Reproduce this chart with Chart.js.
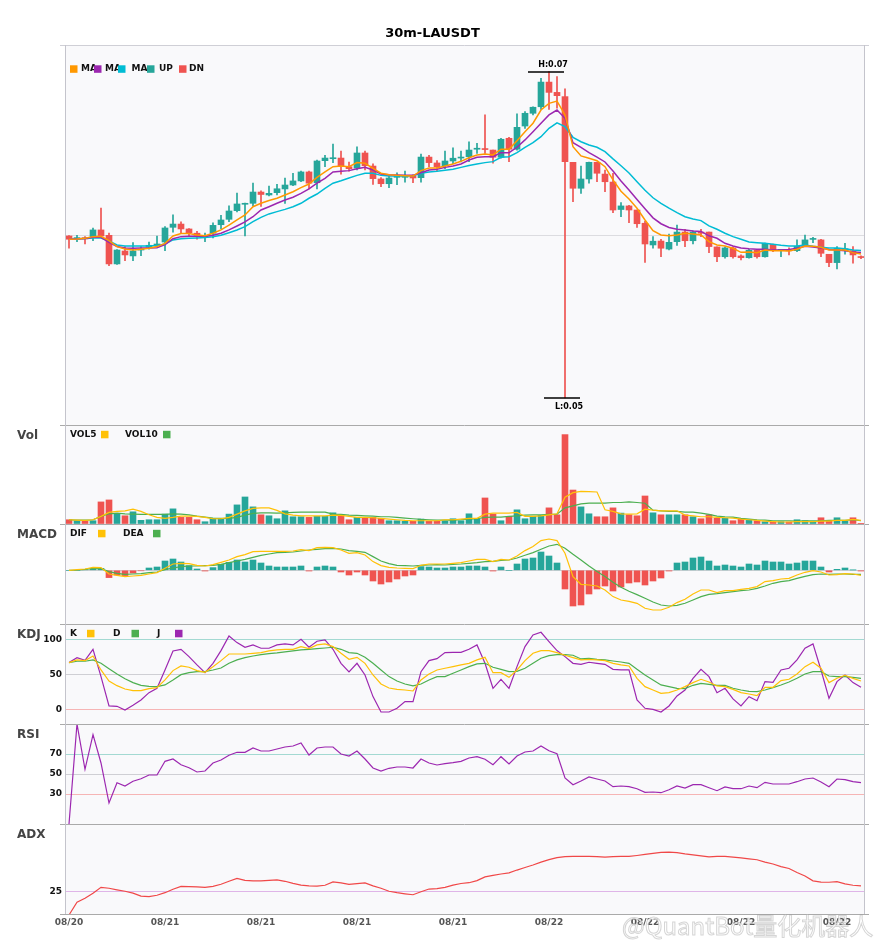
<!DOCTYPE html>
<html>
<head>
<meta charset="utf-8">
<title>30m-LAUSDT</title>
<script src="https://cdn.jsdelivr.net/npm/chart.js@4.4.1/dist/chart.umd.min.js"></script>
<style>
  html, body { margin: 0; padding: 0; background: #fff; }
  #board { position: relative; width: 885px; height: 950px; overflow: hidden; }
  #board canvas { position: absolute; left: 0; }
</style>
</head>
<body>
<div id="board">
  <canvas id="priceChart" width="885" height="425" style="top:0px;width:885px;height:425px"></canvas>
  <canvas id="volChart" width="885" height="99" style="top:425px;width:885px;height:99px"></canvas>
  <canvas id="macdChart" width="885" height="100" style="top:524px;width:885px;height:100px"></canvas>
  <canvas id="kdjChart" width="885" height="100" style="top:624px;width:885px;height:100px"></canvas>
  <canvas id="rsiChart" width="885" height="100" style="top:724px;width:885px;height:100px"></canvas>
  <canvas id="adxChart" width="885" height="126" style="top:824px;width:885px;height:126px"></canvas>
</div>
<script>
/**
 * 30m-LAUSDT candles with indicator panels
 */

// tick labels, one every 12 bars (6 hours)
const tickLabels = ['08/20', '08/21', '08/21', '08/21', '08/21', '08/22', '08/22', '08/22', '08/22'];

const open = [
  0.06000,0.05982,0.05990,0.05996,0.06037,0.06004,0.05829,0.05908,0.05878,0.05914,
  0.05931,0.05943,0.05963,0.06053,0.06073,0.06043,0.06017,0.05992,0.06017,0.06069,
  0.06102,0.06155,0.06194,0.06200,0.06269,0.06251,0.06265,0.06288,0.06312,0.06337,
  0.06392,0.06326,0.06461,0.06473,0.06477,0.06424,0.06416,0.06508,0.06428,0.06349,
  0.06320,0.06359,0.06359,0.06367,0.06357,0.06483,0.06447,0.06430,0.06459,0.06477,
  0.06485,0.06531,0.06531,0.06526,0.06482,0.06598,0.06531,0.06673,0.06751,0.06791,
  0.06942,0.06879,0.06853,0.06451,0.06292,0.06349,0.06451,0.06379,0.06330,0.06162,
  0.06184,0.06159,0.06078,0.05945,0.05969,0.05920,0.05965,0.06024,0.05971,0.06024,
  0.06024,0.05933,0.05873,0.05927,0.05878,0.05867,0.05912,0.05873,0.05949,0.05912,
  0.05912,0.05910,0.05939,0.05979,0.05976,0.05888,0.05837,0.05910,0.05910,0.05870
];
const high = [
  0.06003,0.06004,0.05996,0.06049,0.06171,0.06017,0.05916,0.05935,0.05959,0.05935,
  0.05963,0.06000,0.06057,0.06129,0.06086,0.06045,0.06029,0.06017,0.06081,0.06127,
  0.06184,0.06263,0.06202,0.06324,0.06277,0.06306,0.06316,0.06355,0.06384,0.06398,
  0.06398,0.06465,0.06494,0.06563,0.06520,0.06453,0.06545,0.06520,0.06441,0.06357,
  0.06367,0.06387,0.06398,0.06375,0.06502,0.06494,0.06461,0.06520,0.06540,0.06520,
  0.06577,0.06567,0.06741,0.06526,0.06598,0.06604,0.06747,0.06761,0.06791,0.06965,
  0.07006,0.06975,0.06900,0.06451,0.06428,0.06453,0.06453,0.06404,0.06384,0.06205,
  0.06187,0.06159,0.06089,0.05997,0.05979,0.06012,0.06066,0.06041,0.06031,0.06041,
  0.06024,0.05933,0.05933,0.05933,0.05884,0.05919,0.05914,0.05957,0.05951,0.05919,
  0.05928,0.05976,0.06006,0.05992,0.05980,0.05888,0.05935,0.05955,0.05935,0.05878
];
const low = [
  0.05925,0.05965,0.05951,0.05971,0.05996,0.05818,0.05826,0.05849,0.05849,0.05879,
  0.05919,0.05935,0.05910,0.06024,0.06020,0.05996,0.05980,0.05965,0.05988,0.06045,
  0.06088,0.06147,0.06000,0.06184,0.06181,0.06245,0.06251,0.06200,0.06308,0.06332,
  0.06288,0.06288,0.06424,0.06449,0.06379,0.06396,0.06404,0.06404,0.06316,0.06302,
  0.06296,0.06314,0.06330,0.06326,0.06330,0.06424,0.06398,0.06412,0.06442,0.06453,
  0.06455,0.06506,0.06506,0.06445,0.06476,0.06455,0.06526,0.06659,0.06741,0.06775,
  0.06775,0.06782,0.05009,0.06210,0.06261,0.06323,0.06332,0.06271,0.06143,0.06118,
  0.06081,0.06053,0.05838,0.05925,0.05873,0.05914,0.05942,0.05935,0.05951,0.05996,
  0.05898,0.05843,0.05864,0.05864,0.05853,0.05864,0.05864,0.05870,0.05904,0.05873,
  0.05884,0.05904,0.05935,0.05959,0.05873,0.05812,0.05798,0.05888,0.05833,0.05861
];
const close = [
  0.05980,0.05990,0.05982,0.06037,0.06000,0.05829,0.05914,0.05884,0.05908,0.05919,
  0.05943,0.05951,0.06049,0.06073,0.06043,0.06020,0.06004,0.06000,0.06065,0.06098,
  0.06153,0.06196,0.06200,0.06269,0.06254,0.06261,0.06289,0.06312,0.06337,0.06392,
  0.06323,0.06459,0.06477,0.06477,0.06430,0.06412,0.06508,0.06430,0.06351,0.06320,
  0.06355,0.06367,0.06367,0.06355,0.06483,0.06449,0.06424,0.06459,0.06476,0.06483,
  0.06526,0.06537,0.06529,0.06482,0.06592,0.06531,0.06665,0.06751,0.06788,0.06942,
  0.06879,0.06859,0.06455,0.06292,0.06349,0.06451,0.06384,0.06332,0.06159,0.06184,
  0.06159,0.06075,0.05951,0.05968,0.05925,0.05961,0.06024,0.05971,0.06024,0.06017,
  0.05935,0.05873,0.05927,0.05873,0.05867,0.05912,0.05873,0.05955,0.05914,0.05916,
  0.05909,0.05937,0.05976,0.05981,0.05894,0.05837,0.05925,0.05922,0.05884,0.05868
];

// moving averages (orange / purple / cyan)
const maFast = [
  0.05980,0.05982,0.05986,0.05996,0.05998,0.05971,0.05935,0.05920,0.05914,0.05919,
  0.05925,0.05935,0.05955,0.06000,0.06015,0.06015,0.06006,0.06002,0.06017,0.06037,
  0.06067,0.06098,0.06129,0.06179,0.06200,0.06217,0.06231,0.06251,0.06271,0.06296,
  0.06318,0.06359,0.06392,0.06424,0.06428,0.06424,0.06449,0.06445,0.06414,0.06384,
  0.06375,0.06371,0.06369,0.06367,0.06400,0.06416,0.06416,0.06428,0.06441,0.06457,
  0.06479,0.06496,0.06502,0.06496,0.06531,0.06531,0.06583,0.06638,0.06690,0.06771,
  0.06812,0.06826,0.06741,0.06547,0.06490,0.06476,0.06461,0.06424,0.06343,0.06274,
  0.06226,0.06170,0.06098,0.06032,0.06006,0.06002,0.06006,0.06017,0.06012,0.06006,
  0.05965,0.05945,0.05939,0.05925,0.05900,0.05902,0.05898,0.05914,0.05910,0.05910,
  0.05908,0.05919,0.05939,0.05937,0.05931,0.05914,0.05914,0.05914,0.05898,0.05890
];
const maMid = [
  0.05980,0.05982,0.05985,0.05992,0.05992,0.05961,0.05935,0.05927,0.05925,0.05927,
  0.05927,0.05928,0.05947,0.05983,0.05996,0.05998,0.05998,0.05998,0.06004,0.06017,
  0.06037,0.06061,0.06086,0.06118,0.06159,0.06179,0.06200,0.06220,0.06237,0.06261,
  0.06288,0.06323,0.06353,0.06392,0.06396,0.06400,0.06412,0.06420,0.06404,0.06379,
  0.06375,0.06373,0.06371,0.06371,0.06387,0.06404,0.06408,0.06420,0.06428,0.06441,
  0.06465,0.06482,0.06485,0.06485,0.06510,0.06510,0.06543,0.06588,0.06638,0.06690,
  0.06741,0.06771,0.06720,0.06571,0.06543,0.06510,0.06483,0.06453,0.06398,0.06337,
  0.06282,0.06223,0.06166,0.06111,0.06075,0.06052,0.06041,0.06037,0.06031,0.06028,
  0.06001,0.05986,0.05955,0.05939,0.05927,0.05922,0.05919,0.05919,0.05914,0.05914,
  0.05917,0.05925,0.05937,0.05933,0.05927,0.05917,0.05914,0.05910,0.05902,0.05899
];
const maSlow = [
  0.05980,0.05982,0.05985,0.05988,0.05988,0.05969,0.05945,0.05939,0.05939,0.05939,
  0.05939,0.05941,0.05951,0.05976,0.05983,0.05986,0.05988,0.05990,0.05996,0.06004,
  0.06020,0.06037,0.06057,0.06088,0.06114,0.06135,0.06149,0.06163,0.06179,0.06200,
  0.06231,0.06257,0.06292,0.06323,0.06338,0.06355,0.06371,0.06384,0.06384,0.06371,
  0.06367,0.06367,0.06367,0.06369,0.06384,0.06392,0.06396,0.06402,0.06408,0.06420,
  0.06431,0.06441,0.06449,0.06455,0.06482,0.06485,0.06510,0.06543,0.06571,0.06608,
  0.06659,0.06693,0.06669,0.06604,0.06577,0.06557,0.06543,0.06516,0.06472,0.06430,
  0.06386,0.06332,0.06280,0.06234,0.06200,0.06170,0.06143,0.06118,0.06104,0.06094,
  0.06062,0.06041,0.06017,0.05996,0.05980,0.05963,0.05959,0.05955,0.05949,0.05943,
  0.05939,0.05939,0.05945,0.05937,0.05931,0.05927,0.05927,0.05922,0.05914,0.05911
];

// volume (thousands) and its averages
const volume = [
  4.3,3.3,3.0,3.3,22.3,24.3,10.0,8.3,12.3,3.7,
  4.3,4.3,10.0,15.3,6.7,6.7,4.3,2.3,5.7,5.7,
  10.0,19.3,27.3,17.3,9.3,8.3,5.3,13.3,7.3,7.3,
  6.7,7.7,7.7,11.3,8.7,4.3,6.7,6.7,6.7,5.7,
  3.3,3.3,2.7,2.7,5.0,2.7,2.7,2.7,5.3,3.3,
  10.3,5.0,26.3,10.0,3.3,7.7,14.3,5.3,7.7,8.7,
  16.3,9.3,90.3,34.3,17.3,10.3,7.3,7.3,16.3,11.0,
  9.3,8.3,28.3,11.3,9.3,9.3,9.3,9.3,7.3,5.3,
  9.3,5.7,5.7,3.3,5.7,4.3,3.3,2.3,2.0,2.3,
  2.0,4.3,3.3,2.3,6.3,2.7,6.3,2.7,6.3,0.7
];
const vol5 = [
  4.3,4.0,3.7,4.3,7.7,11.7,12.7,13.3,15.0,12.7,
  9.3,6.7,5.7,6.7,8.0,8.0,7.7,6.7,5.3,5.3,
  6.7,10.0,13.3,15.7,16.3,16.3,13.7,10.3,9.0,8.3,
  8.3,8.3,8.3,9.0,8.7,7.7,6.7,6.7,6.3,5.7,
  5.0,4.3,3.7,3.3,3.3,3.3,3.3,4.3,4.3,5.0,
  5.7,5.7,10.0,11.0,11.0,11.0,11.7,7.7,7.7,8.3,
  9.3,10.3,27.0,31.7,33.0,32.7,32.3,14.3,12.7,10.3,
  10.0,10.3,15.0,14.0,13.3,13.3,13.3,9.0,8.3,7.3,
  7.3,6.7,6.3,6.0,5.0,4.3,3.7,3.0,2.3,2.0,
  2.0,2.3,2.3,2.3,3.0,3.0,3.7,3.7,4.7,3.7
];
const vol10 = [
  4.3,4.0,4.0,4.3,7.7,10.3,11.0,10.3,10.0,9.7,
  9.7,9.7,9.7,10.3,10.0,9.3,8.0,7.0,6.0,5.7,
  5.7,6.7,9.0,10.7,11.3,11.3,11.0,11.3,11.7,12.0,
  12.0,12.0,12.0,10.0,9.7,9.0,8.7,8.3,8.0,7.3,
  7.3,6.7,6.0,5.3,4.7,4.3,4.0,4.0,4.0,4.3,
  5.0,5.3,6.7,7.0,7.0,7.7,8.3,9.0,9.3,9.3,
  9.7,10.0,16.3,18.3,20.3,21.0,21.0,21.0,21.7,21.7,
  22.3,21.7,21.0,14.0,13.3,12.7,12.7,12.0,12.0,11.0,
  9.7,8.0,7.3,7.0,5.7,5.0,4.3,4.0,3.3,3.3,
  3.3,3.0,3.3,3.3,3.3,3.7,3.7,3.7,4.3,3.3
];

// MACD (units of 1e-5)
const dif = [
  0,0.7,1.3,3,2.7,-3.7,-5,-6.3,-5.7,-5,
  -3.7,-2.3,2,6.3,7,6.7,5,4.3,5.7,8,
  10.3,13.7,15.7,18.7,19,19,19,19,19.3,20.7,
  19.7,22.7,23,22.7,20.3,17,17.7,15.3,8.7,4.7,
  3,2.3,2,1.7,5,6.3,6.3,6.3,7,7.7,
  9.3,11,11,8.7,11,10.3,14.3,19.7,23.7,29.7,
  31.3,29.7,17,-6.3,-14,-14.7,-15.7,-19.7,-26.3,-29.7,
  -31,-33,-38,-39.7,-39.7,-37,-32.3,-29,-23.7,-19.7,
  -19.7,-22.3,-20.3,-20.3,-19,-18,-16.3,-11.3,-10.3,-8.7,
  -8,-4.7,-2,-0.3,-1.7,-4.7,-4.3,-3.3,-3.7,-5
];
const dea = [
  0,0.3,1,2,1.7,-1.3,-3,-4,-3.7,-3.3,
  -2.3,-1.7,0.7,2.3,3.7,4.3,4.3,4.7,5,6,
  7.7,9.3,11,13,15,16.3,17.7,18,18.3,19.3,
  20.3,21,21.7,22,21.3,19.7,19,18,13.7,9.3,
  6.7,5,4.7,4.3,5,5.3,5.7,5.3,6,6.3,
  7,7.7,8.7,9,10,10.3,12.3,15,17.7,21,
  24.3,26,22,16,10.3,4.3,-1.3,-6.3,-12,-17,
  -21,-24.3,-28,-31.7,-34.7,-35.7,-35,-33,-29.7,-26.3,
  -24,-23.3,-22.3,-21.3,-20.3,-19.7,-18,-15.7,-13,-11.3,
  -10.3,-8,-6,-4.3,-3.7,-4,-3.7,-3.7,-4,-4
];
const macdHist = [
  0,0,0.5,1.3,2,-7.3,-4.7,-5.3,-2.7,-0.5,
  2.3,3.3,9.3,11.3,8.3,4.7,1.3,-0.7,2.7,6,
  8,10.3,8.3,10.3,7.3,4.3,3.3,3.3,3.3,4.3,
  -0.7,3.3,4.3,3.3,-1.7,-4.7,-1.7,-4.7,-10.7,-13.7,
  -11.7,-8.7,-5.7,-4.7,3.7,3.3,2.3,2.3,3.3,3.3,
  4.3,4.3,3.3,-0.7,3.3,0,6.3,11.3,12.3,18.3,
  14.3,7.3,-18.7,-35.7,-34.7,-23.7,-18.7,-15.7,-20.7,-16.7,
  -12.7,-11.7,-14.7,-10.7,-7.7,-0.7,7.3,8.3,12.3,13.3,
  9.3,4.3,5.3,4.3,3.3,6.3,5.3,9.3,8.3,8.3,
  6.3,7.3,9.3,9.3,3.3,-1.7,1,2.3,0.3,-0.7
];

// KDJ
const kLine = [
  67,70.8,69.8,76.4,56.6,41,34.4,29.7,27.4,27.4,
  30.2,31.6,42.5,55.7,62.3,60.4,55.7,53.3,61.3,69.8,
  79.2,79.2,79.2,80.2,81.1,83.5,84.9,85.8,85.8,89.6,
  86.8,92,93.4,89.6,80.2,71.7,74.5,66,49.5,36.8,
  31.1,29.2,28.3,26.9,42.5,50.9,56.6,59,61.3,63.7,
  66,70.8,74.5,52.8,52.8,46.2,56.6,69.8,80.2,84,
  84,81.1,77.4,74,70.8,71.7,70.8,69.8,66,63.7,
  62.3,44.8,33,28.3,23.6,24.5,28.3,33,38.7,43.4,
  39.6,34,33,29.2,24.5,22.6,20.3,32.1,32.1,41.5,
  43.4,50.9,61.3,67.5,59,38.7,44.8,49.1,44.8,41
];
const dLine = [
  67,68.9,68.9,70.8,66,58.5,50.9,44.3,38.7,34.9,
  33.5,33,35.4,42.5,50,52.8,54.2,54.2,56.6,59.4,
  66,70.8,74,76.4,78.3,79.7,80.7,82.1,83.5,84.9,
  85.8,86.8,87.7,88.7,85.8,81.1,80.2,74.5,66,56.6,
  47.2,41,36.8,34,36.8,42.5,47.2,47.2,51.9,56.6,
  61.3,65.1,66,60.4,57.5,54.2,54.7,59,66,73.1,
  76.9,78.3,78.3,77.4,72.2,73.1,71.7,70.8,69.3,67.9,
  66,57.5,49.5,42.5,35.4,33,30.7,30.2,34.9,37.7,
  36.3,34.9,34.9,30.7,28.3,26.4,25.9,28.3,31.6,35.4,
  39.6,44.8,50.9,54.2,54.2,48.1,47.2,47.2,46.2,44.8
];
const jLine = [
  67,74,70.3,85.8,47.2,5.7,5.2,0,6.6,14.2,
  24.5,30.7,56.6,83.5,85.8,75.5,63.7,52.8,66,84,
  104.7,95.3,88.7,92,87.3,87.3,92,93.4,92,100,
  88.7,97.2,99,85.8,66,53.8,66,49.5,18.9,-2.8,
  -2.8,2.4,11.8,11.8,54.2,69.8,72.6,81.1,81.6,81.6,
  85.8,92,66,30.7,43.4,30.7,61.3,89.6,106.1,109.9,
  96.7,84,75.5,66,64.6,67.5,66,64.6,57.5,56.6,
  56.6,14.2,2.4,0.9,-2.8,5.7,19.8,28.3,44.8,57.5,
  47.2,24.5,30.7,15.6,5.7,18.9,13.2,40.1,39.2,56.6,
  59,70.8,87.3,93.4,56.6,16.5,40.1,49.5,38.7,32.1
];

const rsi = [
  0,100,54.7,89.3,61,21,41.3,38,42.7,45.3,
  49,49,62.7,65,59.3,56.3,52,53,61,64,
  68.7,71.7,71.7,76,73,73,75,77,78,81,
  69,76,77,77,70,68,73,65,56,53,
  55.7,57,57,56,65,61,59,60.3,61.3,62.7,
  66,67.3,64.7,59.3,67.3,60,68,72,73,78,
  73.3,70.3,46,39.3,43,47,45,43,37.3,38,
  37.3,35.3,31.7,32,31.3,34.3,38,36,39.3,39.3,
  36.3,33.3,37,35.3,35.3,38,36.3,41.7,40,40,
  40,42.3,45,46,42,37.3,45,44.3,42.3,41.3
];

const adx = [
  10,18.1,20.6,23.8,27.5,26.9,25.9,25,23.8,21.9,
  21.6,22.5,24.1,26.3,28.1,27.9,27.8,27.4,28.1,29.4,
  31.3,33.1,31.9,31.6,31.6,31.9,32.2,31.3,30,28.9,
  28.4,28.2,28.8,30.9,30.3,29.3,29.8,30.3,28.4,26.9,
  25,24.1,23.4,22.8,24.7,26.4,26.7,27.5,28.9,29.9,
  30.4,31.7,34.1,35,35.9,36.6,38.4,40,41.6,43.4,
  45,46.3,46.9,47,47,47,46.9,46.6,46.9,47,
  47,47.6,48.3,48.9,49.6,49.7,49.4,48.6,48,47.4,
  46.7,47,47,46.6,46.1,45.5,44.9,43.4,42.2,40.6,
  39.4,36.9,34.7,31.6,30.8,30.7,31.1,29.7,28.8,28.4
];

const FONT = "'DejaVu Sans', sans-serif";
Chart.defaults.font.family = FONT;

const TEAL = '#26a69a', RED = '#ef5350';
const YELLOW = '#ffc107', GREEN = '#4caf50', PURPLE = '#9c27b0', ORANGE = '#ff9800', CYAN = '#00bcd4';
const PANEL_BG = '#f9f9fb';

const cats = open.map((_, i) => i);
const candleColor = open.map((o, i) => (close[i] >= o ? TEAL : RED));
const histColor = macdHist.map(v => (v >= 0 ? TEAL : RED));

/**
 * Panel background, frame, side label and legend row
 */
function panelPlugin(cfg) {
    return {
        id: 'panelDeco',
        beforeDraw(chart) {
            const { ctx, chartArea: a } = chart;
            ctx.save();
            ctx.fillStyle = PANEL_BG;
            ctx.fillRect(a.left, a.top, a.right - a.left, a.bottom - a.top);
            ctx.restore();
        },
        afterDraw(chart) {
            const { ctx, chartArea: a } = chart;
            ctx.save();
            ctx.lineWidth = 1;
            ctx.strokeStyle = cfg.topColor || '#aaaaaa';
            ctx.beginPath();
            ctx.moveTo(a.left - 5, a.top + 0.5);
            ctx.lineTo(a.right + 4, a.top + 0.5);
            ctx.stroke();
            ctx.strokeStyle = '#c4c4cc';
            ctx.beginPath();
            ctx.moveTo(a.left + 0.5, a.top);
            ctx.lineTo(a.left + 0.5, a.bottom);
            ctx.moveTo(a.right - 0.5, a.top);
            ctx.lineTo(a.right - 0.5, a.bottom);
            ctx.stroke();
            if (cfg.bottomLine) {
                ctx.strokeStyle = '#aaaaaa';
                ctx.beginPath();
                ctx.moveTo(a.left - 5, a.bottom - 0.5);
                ctx.lineTo(a.right + 4, a.bottom - 0.5);
                ctx.stroke();
            }
            if (cfg.name) {
                ctx.fillStyle = '#444';
                ctx.font = 'bold 12px ' + FONT;
                ctx.textAlign = 'left';
                ctx.textBaseline = 'middle';
                ctx.fillText(cfg.name, 17, a.top + 10.5);
            }
            const ly = a.top + (cfg.legendY || 9.5);
            (cfg.legend || []).forEach(item => {
                if (item.box) {
                    ctx.fillStyle = item.box;
                    ctx.fillRect(item.x, ly - 3.7, 7.5, 7.5);
                } else {
                    ctx.fillStyle = '#111';
                    ctx.font = 'bold 9px ' + FONT;
                    ctx.textAlign = 'left';
                    ctx.textBaseline = 'middle';
                    ctx.fillText(item.text, item.x, ly);
                }
            });
            if (cfg.extra) cfg.extra(chart);
            ctx.restore();
        }
    };
}

function yScale(min, max, levels, colors, showLabels) {
    return {
        min: min,
        max: max,
        bounds: 'data',
        afterFit(s) { s.width = 65; s.paddingTop = 0; s.paddingBottom = 0; },
        afterBuildTicks(s) { s.ticks = levels.map(v => ({ value: v })); },
        ticks: {
            display: showLabels,
            padding: 3,
            color: '#111',
            font: { family: FONT, size: 9, weight: 'bold' }
        },
        grid: {
            drawTicks: false,
            lineWidth: 1,
            color: ctx => {
                const k = ctx.tick ? levels.indexOf(ctx.tick.value) : -1;
                return k >= 0 ? colors[k] : 'rgba(0,0,0,0)';
            }
        },
        border: { display: false }
    };
}

function xScale(showLabels) {
    const scale = {
        type: 'category',
        offset: true,
        display: showLabels,
        grid: { display: false, drawTicks: false },
        border: { display: false },
        ticks: {
            autoSkip: false,
            maxRotation: 0,
            minRotation: 0,
            padding: 2,
            color: '#555',
            font: { family: FONT, size: 9, weight: 'bold' },
            callback: (v, i) => (i % 12 === 0 ? tickLabels[i / 12] : '')
        }
    };
    if (showLabels) {
        scale.afterFit = s => { s.height = 35; s.paddingLeft = 0; s.paddingRight = 0; };
    }
    return scale;
}

function lineSet(data, color, width) {
    return {
        type: 'line',
        data: data,
        borderColor: color,
        borderWidth: width || 1.2,
        pointRadius: 0,
        fill: false,
        tension: 0,
        order: 0
    };
}

function baseOptions(y, x) {
    return {
        responsive: false,
        animation: false,
        events: [],
        layout: { padding: { left: 0, right: 20, top: 0, bottom: 0 } },
        plugins: { legend: { display: false }, tooltip: { enabled: false } },
        scales: { x: x || xScale(false), y: y }
    };
}

/**
 * High / low markers on the price panel
 */
function drawMark(ctx, x, y, text, above) {
    ctx.save();
    ctx.strokeStyle = '#000';
    ctx.lineWidth = 1.5;
    ctx.beginPath();
    ctx.moveTo(x - 21, y);
    ctx.lineTo(x + 15, y);
    ctx.stroke();
    ctx.fillStyle = '#000';
    ctx.font = 'bold 8px ' + FONT;
    ctx.textAlign = 'center';
    ctx.textBaseline = 'middle';
    ctx.fillText(text, x + 4, above ? y - 7 : y + 9);
    ctx.restore();
}

const hiLoPlugin = {
    id: 'hiLo',
    afterDatasetsDraw(chart) {
        const xs = chart.scales.x, ys = chart.scales.y;
        let hi = 0, lo = 0;
        high.forEach((v, i) => { if (v > high[hi]) hi = i; });
        low.forEach((v, i) => { if (v < low[lo]) lo = i; });
        drawMark(chart.ctx, xs.getPixelForValue(hi), Math.round(ys.getPixelForValue(high[hi])), 'H:' + high[hi].toFixed(2), true);
        drawMark(chart.ctx, xs.getPixelForValue(lo), Math.round(ys.getPixelForValue(low[lo])), 'L:' + low[lo].toFixed(2), false);
    }
};

// Price panel
const priceOpts = baseOptions(yScale(0.04843, 0.07169, [0.06], ['#dcdce0'], false));
priceOpts.plugins.title = {
    display: true,
    text: '30m-LAUSDT',
    color: '#000',
    font: { family: FONT, size: 13, weight: 'bold' },
    padding: { top: 26, bottom: 3.4 }
};
new Chart(document.getElementById('priceChart'), {
    type: 'bar',
    data: {
        labels: cats,
        datasets: [
            lineSet(maFast, ORANGE, 1.5),
            lineSet(maMid, PURPLE, 1.5),
            lineSet(maSlow, CYAN, 1.5),
            {
                type: 'bar',
                data: open.map((o, i) => [o, close[i]]),
                backgroundColor: candleColor,
                barThickness: 6,
                minBarLength: 1,
                grouped: false,
                order: 1
            },
            {
                type: 'bar',
                data: low.map((l, i) => [l, high[i]]),
                backgroundColor: candleColor,
                barThickness: 1,
                grouped: false,
                order: 2
            }
        ]
    },
    options: priceOpts,
    plugins: [panelPlugin({
        topColor: '#cfcfd6',
        legendY: 24,
        legend: [
            { box: ORANGE, x: 70 }, { text: 'MA', x: 81 },
            { box: PURPLE, x: 94 }, { text: 'MA', x: 105 },
            { box: CYAN, x: 118 }, { text: 'MA', x: 131.5 },
            { box: TEAL, x: 147 }, { text: 'UP', x: 159 },
            { box: RED, x: 179 }, { text: 'DN', x: 189 }
        ]
    }), hiLoPlugin]
});

// Volume panel
new Chart(document.getElementById('volChart'), {
    type: 'bar',
    data: {
        labels: cats,
        datasets: [
            lineSet(vol5, YELLOW),
            lineSet(vol10, GREEN),
            { type: 'bar', data: volume, backgroundColor: candleColor, barThickness: 6, grouped: false, order: 1 }
        ]
    },
    options: baseOptions(yScale(0, 100, [0], ['rgba(0,0,0,0)'], false)),
    plugins: [panelPlugin({
        name: 'Vol',
        legend: [
            { text: 'VOL5', x: 70 }, { box: YELLOW, x: 101 },
            { text: 'VOL10', x: 125 }, { box: GREEN, x: 163 }
        ]
    })]
});

// MACD panel
new Chart(document.getElementById('macdChart'), {
    type: 'bar',
    data: {
        labels: cats,
        datasets: [
            lineSet(dif, YELLOW),
            lineSet(dea, GREEN),
            { type: 'bar', data: macdHist, backgroundColor: histColor, barThickness: 6, grouped: false, order: 1 }
        ]
    },
    options: baseOptions(yScale(-53.7, 46.3, [0], ['#cfcfd4'], false)),
    plugins: [panelPlugin({
        name: 'MACD',
        legend: [
            { text: 'DIF', x: 70 }, { box: YELLOW, x: 98 },
            { text: 'DEA', x: 123 }, { box: GREEN, x: 153 }
        ]
    })]
});

// KDJ panel
new Chart(document.getElementById('kdjChart'), {
    type: 'line',
    data: {
        labels: cats,
        datasets: [lineSet(kLine, YELLOW), lineSet(dLine, GREEN), lineSet(jLine, PURPLE)]
    },
    options: baseOptions(yScale(-19.8, 121.6, [0, 50, 100], ['#f6b5b5', '#cfcfd4', '#a3d9d2'], true)),
    plugins: [panelPlugin({
        name: 'KDJ',
        legend: [
            { text: 'K', x: 70 }, { box: YELLOW, x: 87 },
            { text: 'D', x: 113 }, { box: GREEN, x: 131.5 },
            { text: 'J', x: 157 }, { box: PURPLE, x: 175 }
        ]
    })]
});

// RSI panel
new Chart(document.getElementById('rsiChart'), {
    type: 'line',
    data: { labels: cats, datasets: [lineSet(rsi, PURPLE)] },
    options: baseOptions(yScale(0, 100, [30, 50, 70], ['#f6b5b5', '#cfcfd4', '#a3d9d2'], true)),
    plugins: [panelPlugin({ name: 'RSI' })]
});

// ADX panel with the shared time axis
new Chart(document.getElementById('adxChart'), {
    type: 'line',
    data: { labels: cats, datasets: [lineSet(adx, '#f04848')] },
    options: baseOptions(yScale(10, 67.5, [25], ['#dfb5e8'], true), xScale(true)),
    plugins: [panelPlugin({
        name: 'ADX',
        bottomLine: true,
        extra(chart) {
            const ctx = chart.ctx;
            ctx.font = '24px "Noto Sans CJK SC", ' + FONT;
            ctx.textAlign = 'left';
            ctx.textBaseline = 'middle';
            ctx.lineWidth = 1;
            ctx.strokeStyle = 'rgba(150,150,150,0.4)';
            ctx.fillStyle = 'rgba(255,255,255,0.75)';
            ctx.fillText('@QuantBot量化机器人', 622, 102);
            ctx.strokeText('@QuantBot量化机器人', 622, 102);
        }
    })]
});
</script>
</body>
</html>
